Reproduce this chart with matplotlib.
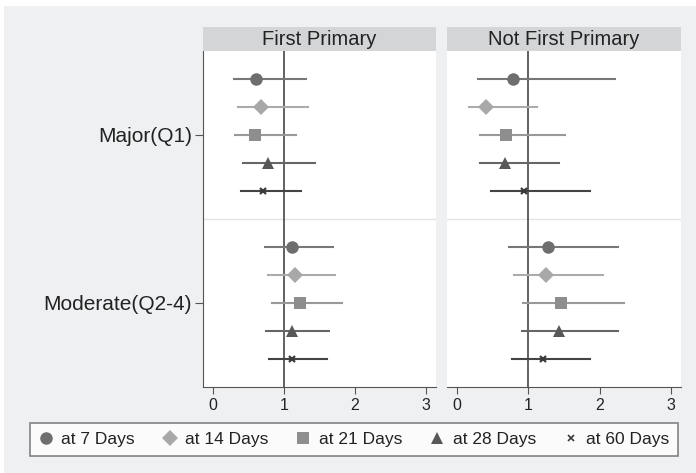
import numpy as np
import matplotlib
matplotlib.use("Agg")
import matplotlib.pyplot as plt
from matplotlib.patches import Rectangle
from matplotlib.lines import Line2D

plt.rcParams['font.family'] = ['Liberation Sans', 'DejaVu Sans']

panels = ["First Primary", "Not First Primary"]
groups = ["Major(Q1)", "Moderate(Q2-4)"]
series = ["at 7 Days", "at 14 Days", "at 21 Days", "at 28 Days", "at 60 Days"]

# odds ratio estimates [panel][group][series]
est = [
    [[0.60, 0.67, 0.59, 0.78, 0.70],
     [1.11, 1.15, 1.22, 1.12, 1.12]],
    [[0.78, 0.41, 0.69, 0.67, 0.94],
     [1.28, 1.25, 1.46, 1.43, 1.21]],
]
lo = [
    [[0.29, 0.35, 0.31, 0.43, 0.40],
     [0.73, 0.77, 0.83, 0.75, 0.79]],
    [[0.29, 0.17, 0.33, 0.32, 0.48],
     [0.73, 0.80, 0.93, 0.91, 0.77]],
]
hi = [
    [[1.31, 1.34, 1.17, 1.43, 1.24],
     [1.69, 1.72, 1.82, 1.64, 1.61]],
    [[2.22, 1.12, 1.52, 1.43, 1.87],
     [2.25, 2.05, 2.34, 2.25, 1.87]],
]

markers = ["o", "D", "s", "^", "x"]
msizes = [9, 8.5, 9, 9, 5]
mcolors = ["#6e6e6e", "#a8a8a8", "#8e8e8e", "#585858", "#3a3a3a"]
lcolors = ["#777777", "#ababab", "#999999", "#666666", "#444444"]

W, H = 696, 473
fig = plt.figure(figsize=(W / 100, H / 100), dpi=100, facecolor="white")
fig.patches.append(Rectangle((4 / W, 0), 1, 1 - 6 / H, transform=fig.transFigure,
                             facecolor="#eff0f1", edgecolor="none", zorder=-10))

group_center = [9, 3]
offsets = [2, 1, 0, -1, -2]
ax_px = [(203.3, 435.7), (447.3, 680.7)]
top_px, bot_px = 51, 386.7

for p, (x0, x1) in enumerate(ax_px):
    ax = fig.add_axes([x0 / W, 1 - bot_px / H, (x1 - x0) / W, (bot_px - top_px) / H])
    ax.set_facecolor("white")
    ax.set_xlim(-0.135, 3.135)
    ax.set_ylim(0, 12)
    ax.axhline(6, color="#e4e4e4", lw=1, zorder=1)
    ax.axvline(1, color="#555555", lw=1.3, zorder=2)
    for g in range(2):
        for s in range(5):
            y = group_center[g] + offsets[s]
            ax.plot([lo[p][g][s], hi[p][g][s]], [y, y], color=lcolors[s], lw=1.5, zorder=3)
            ax.plot(est[p][g][s], y, marker=markers[s], ms=msizes[s], color=mcolors[s],
                    mew=1.6 if markers[s] == "x" else 0, zorder=4, linestyle="none")
    for side in ["top", "right"]:
        ax.spines[side].set_visible(False)
    ax.spines["bottom"].set_color("#555555")
    ax.spines["left"].set_color("#555555")
    ax.set_xticks([0, 1, 2, 3])
    ax.tick_params(axis="x", length=5, color="#555555", labelsize=11.5,
                   labelcolor="#222222", pad=3)
    if p == 0:
        ax.set_yticks(group_center)
        ax.set_yticklabels(groups)
        ax.tick_params(axis="y", length=6, color="#555555", labelsize=15,
                       labelcolor="#222222", pad=2)
    else:
        ax.spines["left"].set_visible(False)
        ax.set_yticks([])
    # header strip
    fig.patches.append(Rectangle((x0 / W, 1 - top_px / H), (x1 - x0) / W, (top_px - 27.3) / H,
                                 transform=fig.transFigure, facecolor="#d4d5d6",
                                 edgecolor="none", zorder=1))
    fig.text((x0 + x1) / 2 / W, 1 - 39.5 / H, panels[p], ha="center", va="center",
             fontsize=14.5, color="#222222")

handles = [Line2D([], [], marker=markers[s], color=mcolors[s], linestyle="none",
                  ms=msizes[s], mew=1.2 if markers[s] == "x" else 0)
           for s in range(5)]
leg = fig.legend(handles, series, loc="center", bbox_to_anchor=(354 / W, 1 - 439.5 / H),
                 ncol=5, frameon=True, fontsize=12.5, handlelength=0.8, handletextpad=0.5,
                 columnspacing=1.6, borderpad=0.5, fancybox=False)
leg.get_frame().set_edgecolor("#666666")
leg.get_frame().set_linewidth(1.2)
for t in leg.get_texts():
    t.set_color("#222222")

fig.savefig("out.png", dpi=100, facecolor=fig.get_facecolor())
